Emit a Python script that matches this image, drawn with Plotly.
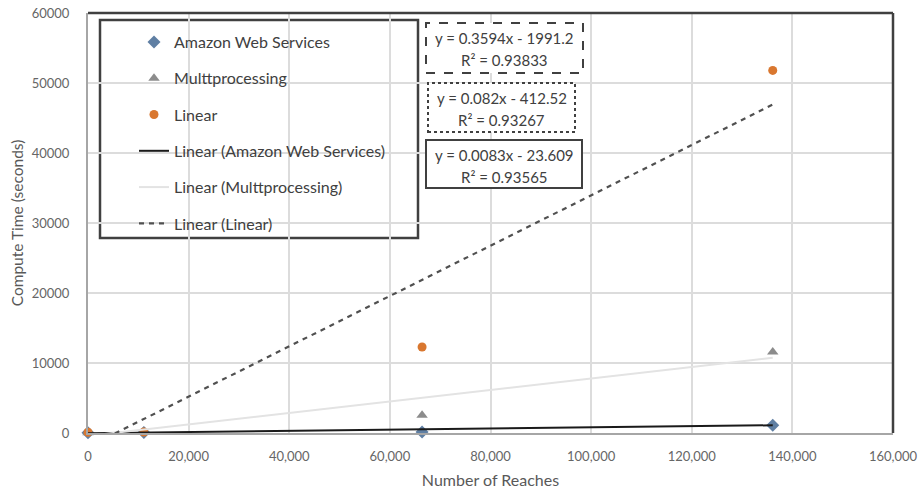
import numpy as np
import plotly.graph_objects as go

# Measured compute times (seconds) against number of reaches
reaches = [0, 11100, 66400, 136100]
aws_time = [20, 60, 150, 1100]
mp_time = [40, 120, 2530, 11570]
linear_time = [100, 150, 12290, 51800]

series_names = ["Amazon Web Services", "Multtprocessing", "Linear"]
trend_names = ["Linear (Amazon Web Services)", "Linear (Multtprocessing)", "Linear (Linear)"]

# Least-squares trendline coefficients (y = slope * x + intercept)
trend_slope = [0.0083, 0.082, 0.3594]
trend_intercept = [-23.609, -412.52, -1991.2]
trend_r2 = ["0.93565", "0.93267", "0.93833"]

x_ticks = [0, 20000, 40000, 60000, 80000, 100000, 120000, 140000, 160000]
y_ticks = [0, 10000, 20000, 30000, 40000, 50000, 60000]

FONT = "Lato"
W, H = 918, 489
ML, MR, MT, MB = 88, 25, 13, 56
PW, PH = W - ML - MR, H - MT - MB


def px_x(v):
    return (v - ML) / PW


def px_y(v):
    return (MT + PH - v) / PH


fig = go.Figure()

marker_styles = [
    dict(symbol="diamond", size=10, color="#5f7fa3"),
    dict(symbol="triangle-up", size=10, color="#8c8c8c"),
    dict(symbol="circle", size=9, color="#d9772f"),
]
for i, (name, ys) in enumerate(zip(series_names, [aws_time, mp_time, linear_time])):
    fig.add_trace(go.Scatter(
        x=reaches, y=ys, mode="markers", name=name,
        marker=marker_styles[i], cliponaxis=False, legendgroup=f"g{i}",
    ))

line_styles = [
    dict(color="#1a1a1a", width=2),
    dict(color="#e3e3e3", width=2),
    dict(color="#505050", width=2.2, dash="5px,5px"),
]
x_fit = np.array([min(reaches), max(reaches)], dtype=float)
for i, name in enumerate(trend_names):
    fig.add_trace(go.Scatter(
        x=x_fit, y=trend_slope[i] * x_fit + trend_intercept[i],
        mode="lines", name=name, line=line_styles[i], legendgroup=f"t{i}",
    ))

shapes = []
# chart frame (top and right edges)
shapes.append(dict(type="line", xref="paper", yref="paper", x0=0, x1=1, y0=1, y1=1,
                   line=dict(color="#404040", width=2.5)))
shapes.append(dict(type="line", xref="paper", yref="paper", x0=1, x1=1, y0=0, y1=1,
                   line=dict(color="#404040", width=2.5)))
# legend frame
shapes.append(dict(type="rect", xref="paper", yref="paper",
                   x0=px_x(100), x1=px_x(418), y0=px_y(238), y1=px_y(20),
                   line=dict(color="#404040", width=2.5), fillcolor="white", layer="below"))

# trendline equation boxes
boxes = [
    (426, 582, 140, 188, "solid"),
    (428, 575, 83, 132, "dot"),
    (426, 583, 23, 73, "dash"),
]
annotations = []
for i, (x0, x1, y0, y1, dash) in enumerate(boxes):
    shapes.append(dict(type="rect", xref="paper", yref="paper",
                       x0=px_x(x0), x1=px_x(x1), y0=px_y(y1), y1=px_y(y0),
                       line=dict(color="#404040", width=2, dash=dash),
                       fillcolor="white", layer="above"))
    eq = f"y = {trend_slope[i]}x - {abs(trend_intercept[i])}"
    cx = (x0 + x1) / 2
    annotations.append(dict(xref="paper", yref="paper", x=px_x(cx), y=px_y(y0 + 15),
                            text=eq, showarrow=False, xanchor="center", yanchor="middle",
                            font=dict(family=FONT, size=15, color="#404040")))
    annotations.append(dict(xref="paper", yref="paper", x=px_x(cx), y=px_y(y0 + 37),
                            text=f"R² = {trend_r2[i]}", showarrow=False, xanchor="center",
                            yanchor="middle",
                            font=dict(family=FONT, size=15, color="#404040")))

fig.update_layout(
    width=W, height=H,
    margin=dict(l=ML, r=MR, t=MT, b=MB),
    paper_bgcolor="white", plot_bgcolor="white",
    font=dict(family=FONT, color="#595959"),
    shapes=shapes, annotations=annotations,
    legend=dict(
        x=px_x(134), y=px_y(25), xanchor="left", yanchor="top",
        bgcolor="rgba(0,0,0,0)", borderwidth=0,
        font=dict(family=FONT, size=16, color="#404040"),
        tracegroupgap=12.5, traceorder="grouped",
    ),
    xaxis=dict(
        range=[0, 160000], tickvals=x_ticks, tickformat=",d",
        showgrid=True, gridcolor="#dcdcdc", gridwidth=1.5,
        showline=True, linecolor="#a6a6a6", linewidth=2,
        zeroline=False, ticks="", ticklabelstandoff=10,
        ticklabeloverflow="allow", automargin=False,
        tickfont=dict(family=FONT, size=13, color="#666666"),
        title=dict(text="Number of Reaches", font=dict(family=FONT, size=16, color="#595959"),
                   standoff=12),
    ),
    yaxis=dict(
        range=[0, 60000], tickvals=y_ticks, tickformat="d",
        showgrid=True, gridcolor="#dcdcdc", gridwidth=1.5,
        showline=True, linecolor="#a6a6a6", linewidth=2,
        zeroline=False, ticks="", ticklabelstandoff=14,
        ticklabeloverflow="allow", automargin=False,
        tickfont=dict(family=FONT, size=13, color="#666666"),
        title=dict(text="Compute Time (seconds)", font=dict(family=FONT, size=15.5, color="#595959"),
                   standoff=4),
    ),
)

fig.write_html("out.html")
